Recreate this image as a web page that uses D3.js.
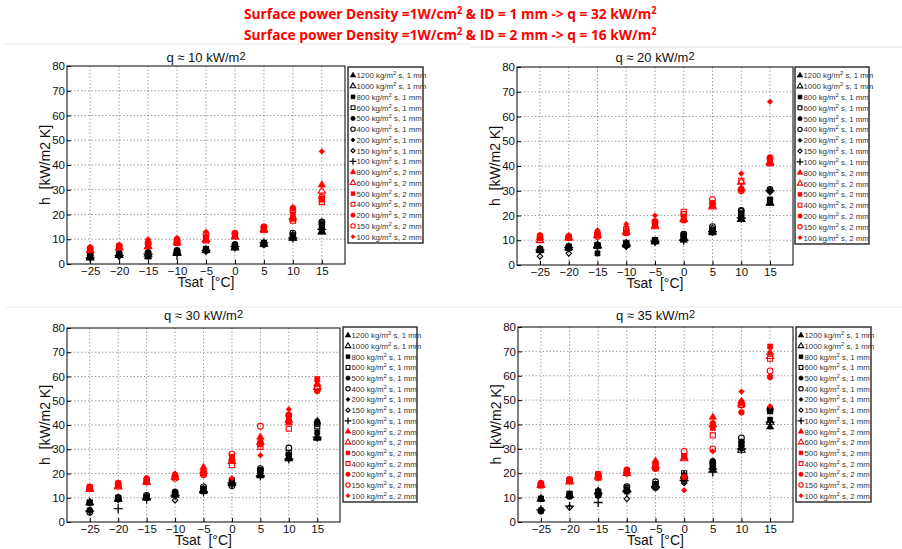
<!DOCTYPE html>
<html>
<head>
<meta charset="utf-8">
<script src="https://cdn.jsdelivr.net/npm/d3@7"></script>
<style>
  body { margin: 0; background: #fff; }
  svg { display: block; font-family: "Liberation Sans", Arial, sans-serif; }
</style>
</head>
<body>
<svg id="chart" width="902" height="549"></svg>
<script>
// saturation temperatures (x axis)
var tsat = [-25, -20, -15, -10, -5, 0, 5, 10, 15];
var xTicks = [-25, -20, -15, -10, -5, 0, 5, 10, 15];
var yTicks = [0, 10, 20, 30, 40, 50, 60, 70, 80];

// legend series: mass flux and tube diameter
var massFlux = [1200, 1000, 800, 600, 500, 400, 200, 150, 100, 800, 600, 500, 400, 200, 150, 100];
var diameter = [1, 1, 1, 1, 1, 1, 1, 1, 1, 2, 2, 2, 2, 2, 2, 2];

var headerLines = [
  "Surface power Density =1W/cm| & ID = 1 mm -> q = 32 kW/m|",
  "Surface power Density =1W/cm| & ID = 2 mm -> q = 16 kW/m|"
];
var panelTitles = ["10", "20", "30", "35"];

// h [kW/m2 K], one row per series, one value per Tsat
var hQ10 = [
  [3, 3.5, 3, 4.5, 5.5, 7, 8, 10.5, 13],
  [2.5, 3.5, 4, 5, 5.5, 6.5, 8, 10.5, 13],
  [3.5, 4, 3, 4.5, 5.5, 7.5, 8.5, 11, 14],
  [3, 4, 3.5, 5, 6, 7, 8.5, 11.5, 15],
  [4, 4.5, 4, 5, 6, 8, 8.5, 11, 16],
  [3.5, 4, 4.5, 5.5, 5.5, 7.5, 8, 12.5, 17],
  [3.5, 4, 4.5, 5, 6, 8, 8.5, 11, 16.5],
  [2.5, 3, 5, 5.5, 5.5, 6.5, 8, 12, 17],
  [2.5, 3.5, 4, 3.5, 5.5, 7, 8.5, 10.5, 14],
  [5.5, 6.5, 7, 8.5, 9.5, 11, 13.5, 18, 32],
  [5.5, 6.5, 7, 9, 10, 11, 14, 19, 29.5],
  [6, 7, 8, 9, 10, 12, 14.5, 20, 26],
  [6, 7, 8, 8.5, 9.5, 11.5, 14, 17.5, 25],
  [6.5, 7.5, 8, 10, 11, 12, 15, 22.5, 26.5],
  [6, 7, 8.5, 9.5, 12, 12.5, 15, 21.5, 27],
  [7, 7.5, 10, 10.5, 13, 12.5, 15, 23, 45.5]
];
var hQ20 = [
  [6, 7, 7.5, 8, 9.5, 10, 13, 18.5, 25],
  [6, 7, 8, 8.5, 9.5, 11, 13.5, 18.5, 25],
  [6.5, 7.5, 4.7, 8.5, 9.5, 11.5, 13.5, 19.5, 26.5],
  [6, 7, 8, 9, 10, 12, 14, 20, 26],
  [6.5, 7.5, 8, 8.5, 10, 12, 14, 21, 30],
  [6.5, 7, 8, 8, 10, 12.5, 15.5, 22, 30.5],
  [6, 7.5, 7.5, 9, 9.5, 11, 14, 19, 30],
  [3.5, 4.7, 7.5, 7.5, 9.5, 11.5, 15, 22, 29.5],
  [6, 7, 7, 8, 9.5, 10, 13.5, 19, 30],
  [11, 11, 12.5, 13, 16, 18.5, 24, 31, 41],
  [10, 11, 12, 13.5, 15.5, 18.5, 23.5, 33.5, 41.5],
  [11.5, 11.5, 12.5, 13, 16, 18, 25, 30.5, 41],
  [10, 11, 12, 14.5, 17, 21.5, 24, 34, 41.5],
  [12, 11.5, 13, 13, 17.5, 19.5, 25, 30.5, 43.5],
  [11, 11, 11.5, 14, 17.5, 20.5, 26.5, 30, 43],
  [12, 12, 14, 16.5, 20, 18.5, 25, 37, 66]
];
var hQ30 = [
  [null, 9.5, 10, 11, 12.5, 16.5, 19, 26, 34.5],
  [8, 9.5, 10, 11.5, 13, 16, 19.5, 26.5, 35],
  [8, 9.5, 10, 11.5, 13, 16.5, 20, 27.5, 37],
  [8, 10, 10.5, 12, 13.5, 17, 21, 28.5, 39.5],
  [5, 9.5, 10, 12.5, 13, 16.5, 21.5, 27.5, 41],
  [4, 10, 11, 12, 14.5, 15, 22, 30.5, 40.5],
  [5, 9, 10, 11, 13, 17, 20, 28, 42],
  [4.5, 9.5, 10.5, 9, 14, 15.5, 21, 28, 41],
  [4.5, 5.5, 9.5, 11, 12.5, 16, 19, 26, 35],
  [14, 15, 16.5, 19.5, 22.5, 26, 35, 41, 57],
  [13.5, 14.5, 16.5, 18.5, 21, 25, 33, 42, 55.5],
  [14.5, 16, 17, 19, 20, 27, 32, 42, 59],
  [14, 15, 17, 18.5, 20, 23.5, 31, 38.5, 55],
  [14.5, 16, 18, 19.5, 20.5, 26, 33, 44, 54],
  [14, 15.5, 16.5, 18, 19.5, 28, 39.5, 44, 55.5],
  [14.5, 16, 18, 19, 20, 18, 27.5, 46.5, 58]
];
var hQ35 = [
  [null, 11, 12.5, 13, 14.5, 18.5, 21.5, 30.5, 39],
  [9.5, 11, 12.5, 13.5, 15, 19, 22.5, 29.5, 41],
  [9.5, 10.5, 11, 12.5, 14.5, 19, 23, 31, 42],
  [9.5, 11.5, 12.5, 14, 15.5, 20, 24, 32, 45.5],
  [5, 10.5, 11.5, 13, 14, 18.5, 25, 33, 46.5],
  [4.5, 11, 11, 14.5, 16.5, 17, 24, 34.5, 46],
  [5, 10.5, 12, 12.5, 14, 17.5, 25, 32.5, 47],
  [4.5, 6, 11, 9.5, 15.5, 16, 22, 30, 46],
  [5, 6.5, 8, 12.5, 14.5, 17, 20.5, 30, 41],
  [15.5, 17, 19, 21, 25, 26.5, 43, 49.5, 69.5],
  [15, 16.5, 18.5, 20, 23, 26, 40, 48.5, 68],
  [15.5, 17.5, 18, 20.5, 22, 27, 38.5, 49, 72],
  [15, 17, 19.5, 21, 22.5, 27, 35.5, 48, 67],
  [16, 17.5, 19, 21.5, 24, 18.5, 40.5, 45, 59.5],
  [15.5, 17, 19.5, 20, 22, 29, 30, 48, 62],
  [15, 17, 19, 20, 25, 13, 29, 53.5, 47.5]
];
var panelData = [hQ10, hQ20, hQ30, hQ35];

// marker style per series
var shapes = ["tri", "tri", "sq", "sq", "circ", "circ", "dia", "dia", "plus",
              "tri", "tri", "sq", "sq", "circ", "circ", "dia"];
var filled = [true, false, true, false, true, false, true, false, true,
              true, false, true, false, true, false, true];

// panel boxes: plot area and legend
var layout = [
  { l: 67, t: 66, r: 345, b: 264, lx: 348, ly: 67, lw: 75, lh: 176, titleY: 62, xlabY: 287 },
  { l: 517, t: 67, r: 793, b: 265, lx: 795, ly: 67, lw: 74, lh: 177, titleY: 62, xlabY: 288 },
  { l: 67, t: 328, r: 340, b: 522, lx: 343, ly: 327, lw: 74, lh: 175, titleY: 320, xlabY: 545 },
  { l: 518, t: 327, r: 793, b: 522, lx: 796, ly: 327, lw: 75, lh: 175, titleY: 320, xlabY: 545 }
];

var svg = d3.select("#chart");

// faint separators
svg.append("line").attr("x1", 5).attr("x2", 470).attr("y1", 44).attr("y2", 44)
  .attr("stroke", "#e6e6e6").attr("stroke-width", 1);
svg.append("line").attr("x1", 470).attr("x2", 902).attr("y1", 47).attr("y2", 47)
  .attr("stroke", "#e6e6e6").attr("stroke-width", 1);
svg.append("line").attr("x1", 5).attr("x2", 902).attr("y1", 307).attr("y2", 307)
  .attr("stroke", "#eeeeee").attr("stroke-width", 1);

// header text in red, squeezed to the width of the original
headerLines.forEach(function (line, i) {
  var parts = line.split("|");
  var hg = svg.append("g");
  var t = hg.append("text")
    .attr("x", 0).attr("y", 0)
    .attr("fill", "#ff0000")
    .attr("font-family", "'Open Sans', sans-serif")
    .attr("font-weight", "bold")
    .attr("font-size", 15);
  t.append("tspan").text(parts[0]);
  t.append("tspan").attr("dy", -5).attr("font-size", 10).text("2");
  t.append("tspan").attr("dy", 5).text(parts[1]);
  t.append("tspan").attr("dy", -5).attr("font-size", 10).text("2");
  var w = t.node().getComputedTextLength();
  var sx = 413 / w;
  hg.attr("transform", "translate(244," + (19 + i * 21) + ") scale(" + sx + ",1)");
});

function symbolFor(shape, size) {
  var type = { tri: d3.symbolTriangle, sq: d3.symbolSquare, circ: d3.symbolCircle,
               dia: d3.symbolDiamond2, plus: d3.symbolPlus }[shape];
  var s = size;
  if (shape === "tri") s = size * 0.9;
  if (shape === "dia") s = size * 0.75;
  if (shape === "plus") s = size * 1.1;
  return d3.symbol().type(type).size(s)();
}

function styleMarker(sel, i) {
  var col = diameter[i] === 1 ? "#000" : "#ff0000";
  if (shapes[i] === "plus") {
    sel.attr("fill", "none").attr("stroke", col).attr("stroke-width", 1.3);
  } else if (filled[i]) {
    sel.attr("fill", col).attr("stroke", col).attr("stroke-width", 0.6);
  } else {
    sel.attr("fill", "none").attr("stroke", col).attr("stroke-width", 1.1);
  }
}

layout.forEach(function (box, p) {
  var g = svg.append("g");
  var x = d3.scaleLinear().domain([-29, 19]).range([box.l, box.r]);
  var y = d3.scaleLinear().domain([0, 80]).range([box.b, box.t]);

  // grid
  g.append("g").selectAll("line.gx").data(xTicks).join("line")
    .attr("x1", function (d) { return x(d); }).attr("x2", function (d) { return x(d); })
    .attr("y1", box.t).attr("y2", box.b)
    .attr("stroke", "#777").attr("stroke-width", 0.7).attr("stroke-dasharray", "1.5,2");
  g.append("g").selectAll("line.gy").data(yTicks.slice(1, -1)).join("line")
    .attr("y1", function (d) { return y(d); }).attr("y2", function (d) { return y(d); })
    .attr("x1", box.l).attr("x2", box.r)
    .attr("stroke", "#777").attr("stroke-width", 0.7).attr("stroke-dasharray", "1.5,2");

  // axes
  var xa = g.append("g").attr("transform", "translate(0," + box.b + ")")
    .call(d3.axisBottom(x).tickValues(xTicks).tickSizeInner(-4).tickSizeOuter(0).tickPadding(3));
  var ya = g.append("g").attr("transform", "translate(" + box.l + ",0)")
    .call(d3.axisLeft(y).tickValues(yTicks).tickSizeInner(-4).tickSizeOuter(0).tickPadding(2));
  [xa, ya].forEach(function (a) {
    a.select(".domain").remove();
    a.selectAll("text").attr("font-size", 11.5).attr("fill", "#111")
      .attr("font-family", "'Liberation Sans', Arial, sans-serif");
    a.selectAll("line").attr("stroke", "#000");
  });
  g.append("rect").attr("x", box.l).attr("y", box.t)
    .attr("width", box.r - box.l).attr("height", box.b - box.t)
    .attr("fill", "none").attr("stroke", "#000").attr("stroke-width", 1);

  // points
  var rows = panelData[p];
  rows.forEach(function (vals, i) {
    var pts = tsat.map(function (t, k) { return { t: t, h: vals[k] }; })
      .filter(function (d) { return d.h != null; });
    g.append("g").selectAll("path").data(pts).join("path")
      .attr("d", symbolFor(shapes[i], 26))
      .attr("transform", function (d) { return "translate(" + x(d.t) + "," + y(d.h) + ")"; })
      .call(styleMarker, i);
  });

  // title
  var cx = (box.l + box.r) / 2;
  var tt = g.append("text").attr("x", cx).attr("y", box.titleY)
    .attr("text-anchor", "middle").attr("font-size", 13).attr("fill", "#111");
  tt.append("tspan").text("q \u2248 " + panelTitles[p] + " kW/m");
  tt.append("tspan").attr("dy", -2).attr("font-size", 11).text("2");

  // axis labels
  g.append("text").attr("x", cx).attr("y", box.xlabY)
    .attr("text-anchor", "middle").attr("font-size", 14).attr("fill", "#111")
    .text("Tsat\u00a0\u00a0[\u00b0C]");

  g.append("text")
    .attr("transform", "translate(" + (box.l - 17) + "," + ((box.t + box.b) / 2) + ") rotate(-90)")
    .attr("text-anchor", "middle").attr("font-size", 14).attr("fill", "#111")
    .text("h\u00a0\u00a0[kW/m2 K]");

  // legend
  var lg = g.append("g").attr("transform", "translate(" + box.lx + "," + box.ly + ")");
  lg.append("rect").attr("width", box.lw).attr("height", box.lh)
    .attr("fill", "#fff").attr("stroke", "#333").attr("stroke-width", 1.5);
  var step = (box.lh - 4) / massFlux.length;
  massFlux.forEach(function (m, i) {
    var yy = 2 + step * (i + 0.5) + 1;
    lg.append("path").attr("d", symbolFor(shapes[i], 15))
      .attr("transform", "translate(5," + yy + ")")
      .call(styleMarker, i);
    var tx = lg.append("text").attr("x", 8.5).attr("y", yy + 3)
      .attr("font-size", 7.8).attr("fill", "#333");
    tx.append("tspan").text(m + " kg/m");
    tx.append("tspan").attr("dy", -3).attr("font-size", 6).text("2");
    tx.append("tspan").attr("dy", 3).text(" s, " + diameter[i] + " mm");
  });
});
</script>
</body>
</html>
